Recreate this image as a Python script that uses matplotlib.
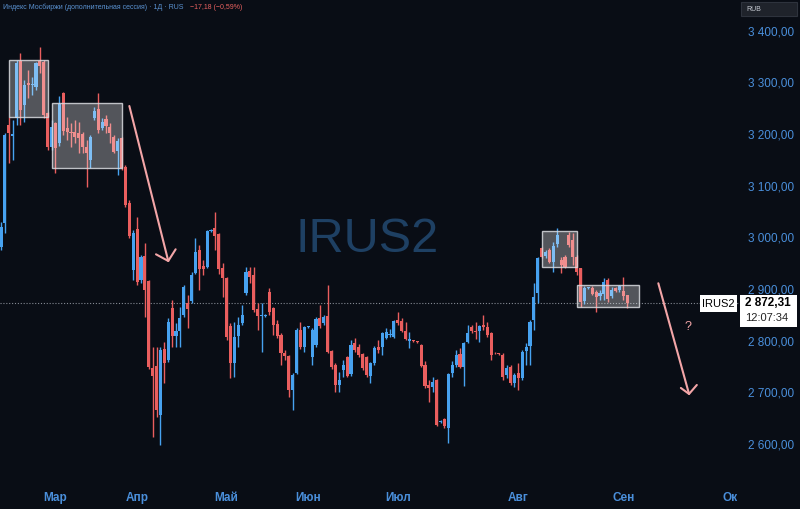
import matplotlib
matplotlib.use("Agg")
import matplotlib.pyplot as plt
from matplotlib.patches import Rectangle
import numpy as np

# ---------------- data (daily candles) ----------------
opens = [2981.6, 3028.0, 3217.7, 3196, 3231.2, 3341.5, 3256.4, 3298, 3296, 3291.2,
         3341.5, 3339.6, 3240.9, 3175.1, 3221.5, 3182.8, 3279.6, 3211.9, 3204, 3204.1,
         3202.2, 3200.3, 3175.1, 3149.9, 3231.2, 3248.6, 3211.9, 3229.3, 3213.8, 3194.5,
         3167.4, 3192.5, 3136.4, 3066.7, 2937.0, 3016.4, 2917.7, 2964.1, 2915.7, 2747.4,
         2751.2, 2656.4, 2784.1, 2762.9, 2863.5, 2809.3, 2819.0, 2850.0, 2873.2, 2877.1,
         2931.2, 2975.8, 2944.8, 2942.9, 3012.5, 3018.3, 3006.7, 2940.9, 2921.6, 2828.7,
         2757.0, 2809.3, 2834.5, 2892.5, 2935.1, 2927.4, 2861.6, 2848, 2848, 2894.5,
         2863.5, 2832.5, 2811.2, 2776.4, 2770.6, 2704.8, 2737.7, 2820.9, 2788.0, 2826.7,
         2768.7, 2791.9, 2844.1, 2834.5, 2848.0, 2780.3, 2753.2, 2714.5, 2743.5, 2768.7,
         2735.7, 2795.8, 2788.0, 2774.5, 2768.7, 2731.9, 2757.0, 2788.0, 2788.0, 2805.4,
         2811, 2807.4, 2840.3, 2838.3, 2819.0, 2799.7, 2800.5, 2799.7, 2791.9, 2753.2,
         2714.5, 2710.6, 2724.1, 2642.9, 2648.6, 2631.2, 2737.7, 2753.2, 2774.5, 2749.3,
         2797.7, 2826.7, 2818, 2819.0, 2830.6, 2826.7, 2815.1, 2777, 2776, 2772.5,
         2733.8, 2749.3, 2718.3, 2737.7, 2728.0, 2780.3, 2790, 2840.3, 2892.5, 2979.6,
         2964.1, 2975.8, 2952.5, 2987.4, 2956.4, 2962.2, 3004.8, 2995.1, 2962.2, 2940.9,
         2877.1, 2902.2, 2902.2, 2894.5, 2886.7, 2890.6, 2917.7, 2886.7, 2902.2, 2898.3,
         2896.4, 2888.7]
highs = [3029.9, 3202.2, 3233.2, 3227.4, 3343.5, 3357.0, 3304.8, 3324.1, 3310.6, 3339.6,
         3368.6, 3343.5, 3242.8, 3227.4, 3223, 3273.8, 3281.5, 3233.2, 3221.5, 3227.4,
         3223.5, 3204, 3188.6, 3198.3, 3252.5, 3279.6, 3231.2, 3237.0, 3221.5, 3198.3,
         3192.5, 3194.5, 3140.3, 3072.5, 3014.5, 3039.6, 2966, 2989.3, 2917.7, 2788.0,
         2788.0, 2788.0, 2797.7, 2844.1, 2879.0, 2834.5, 2865.4, 2908.0, 2888.7, 2933.2,
         2999.0, 2985.4, 2956.4, 3014.5, 3016, 3049.3, 3008.6, 2950.6, 2923, 2834.5,
         2836.4, 2846.1, 2869.3, 2942.9, 2942.9, 2942.9, 2873.2, 2873.2, 2851, 2902.2,
         2865.4, 2840.3, 2815.1, 2782.2, 2772.5, 2737.7, 2824.8, 2836.4, 2828.7, 2829,
         2824.8, 2846.1, 2869.3, 2850.0, 2908.0, 2782.2, 2757.0, 2739.6, 2762.9, 2770.6,
         2801.6, 2805.4, 2793.8, 2776.4, 2770.6, 2759, 2790, 2801.6, 2817, 2824.8,
         2822.9, 2840.3, 2855.8, 2844.1, 2836.4, 2817, 2802, 2800, 2793.8, 2760.9,
         2724.1, 2729.9, 2726, 2646, 2650.5, 2737.7, 2760.9, 2782.2, 2786.1, 2797.7,
         2830.6, 2830.6, 2836.4, 2830.6, 2850.0, 2836.4, 2817, 2778, 2777, 2776.4,
         2753.2, 2753.2, 2737.7, 2757.0, 2782.2, 2795.8, 2840.3, 2911.9, 2962.2, 2981.6,
         2975.8, 2979.6, 2991.2, 3018.3, 2962.2, 2966, 3010.6, 3008.6, 2966, 2941,
         2906.1, 2905, 2906.1, 2898.3, 2898.3, 2921.6, 2921.6, 2904.1, 2904.1, 2908.0,
         2923.5, 2889]
lows = [2975.8, 3008.6, 3144.1, 3149.9, 3217.7, 3217.7, 3223.5, 3269.9, 3275.7, 3285.4,
        3318.3, 3231.2, 3169.3, 3169.3, 3124.8, 3177.0, 3198.3, 3188.6, 3175.1, 3182.8,
        3163.5, 3163.5, 3097.7, 3134.4, 3227.4, 3202.2, 3208.0, 3202.2, 3182.8, 3163.5,
        3120.9, 3130.6, 3059.0, 2999.0, 2917.7, 2908.0, 2912, 2846.1, 2745.4, 2613.8,
        2652.5, 2598.4, 2718.3, 2759, 2788.0, 2788.0, 2788.0, 2846.1, 2824.8, 2873.2,
        2929.3, 2898.3, 2927.4, 2941, 3010, 2975.8, 2929.3, 2884.8, 2801.6, 2728.0,
        2730, 2788.0, 2830.6, 2888.7, 2911.9, 2855.8, 2820.9, 2778.3, 2846, 2850.0,
        2811.2, 2805.4, 2753.2, 2762.9, 2691.2, 2666.1, 2735.7, 2784.1, 2778.3, 2825,
        2753.2, 2788.0, 2824.8, 2830.6, 2776.4, 2745.4, 2700.9, 2700.9, 2730, 2730,
        2731.9, 2778.3, 2768.7, 2743.5, 2730, 2718.3, 2753.2, 2776.4, 2772.5, 2803.5,
        2807, 2806, 2830.6, 2817, 2801.6, 2786.1, 2798, 2796, 2749.3, 2708.7,
        2681.6, 2700.9, 2635.1, 2641, 2631.2, 2602.2, 2730, 2749.3, 2747.4, 2712.5,
        2795.8, 2815.1, 2803.5, 2797.7, 2820.9, 2807.4, 2762.9, 2774, 2773, 2724.1,
        2728.0, 2714.5, 2710.6, 2704.8, 2724.1, 2753.2, 2753.2, 2820.9, 2873.2, 2960.3,
        2960.3, 2950.6, 2933.2, 2981.6, 2931.2, 2941, 2981.6, 2946.7, 2927.4, 2865.4,
        2871.3, 2901, 2888.7, 2855.8, 2879.0, 2879.0, 2875.1, 2882.9, 2894.5, 2894.5,
        2879.0, 2863.5]
closes = [3020.3, 3198.3, 3202.2, 3200, 3337.7, 3246.7, 3295.1, 3296, 3297, 3337.7,
          3331.9, 3237.0, 3175.1, 3213.8, 3173.2, 3258.3, 3206.1, 3204.1, 3203, 3194.5,
          3192.5, 3175.1, 3163.5, 3194.5, 3244.8, 3208.0, 3223.5, 3215.7, 3202.2, 3165.4,
          3186.7, 3134.4, 3062.8, 3002.9, 3008.6, 2913.8, 2962.2, 2898.3, 2749.3, 2731.9,
          2666.1, 2782.2, 2757.0, 2836.4, 2809.3, 2819.0, 2844.1, 2904.1, 2861.6, 2927.4,
          2971.9, 2939.0, 2939.0, 3012.5, 3013.5, 3002.9, 2939.0, 2921.6, 2807.4, 2757.0,
          2807.4, 2830.6, 2850.0, 2933.2, 2923.5, 2859.6, 2848.0, 2849, 2849.5, 2855.8,
          2830.6, 2809.3, 2776.4, 2770.6, 2704.8, 2733.8, 2820.9, 2788.0, 2826.7, 2828,
          2820.9, 2842.2, 2828.7, 2846.1, 2778.3, 2749.3, 2714.5, 2724.1, 2753.2, 2731.9,
          2791.9, 2782.2, 2772.5, 2747.4, 2733.8, 2757.0, 2786.1, 2782.2, 2815.1, 2817.0,
          2812.5, 2838.3, 2834.5, 2819.0, 2803.5, 2803.5, 2799.7, 2797.7, 2751.2, 2712.5,
          2708.7, 2720.2, 2637.0, 2644.5, 2635.1, 2735.7, 2753.2, 2772.5, 2749.3, 2795.8,
          2815.1, 2819.0, 2817, 2828.7, 2826.7, 2811.2, 2772.5, 2775.5, 2774.5, 2729.9,
          2747.4, 2718.3, 2733.8, 2728.0, 2778.3, 2788.0, 2836.4, 2884.8, 2960.3, 2962.2,
          2971.9, 2952.5, 2983.5, 3004.8, 2946.7, 2942.9, 2985.4, 2962.2, 2933.2, 2875.1,
          2902.2, 2903.5, 2890.6, 2884.8, 2892.5, 2913.8, 2880.9, 2898.3, 2896.4, 2906.1,
          2886.7, 2872.31]

month_labels = ["Мар", "Апр", "Май", "Июн", "Июл", "Авг", "Сен", "Ок"]
month_pos = [14, 35, 58, 79, 102, 133, 160, 187.4]
price_ticks = [2600, 2700, 2800, 2900, 3000, 3100, 3200, 3300, 3400]
last_price = 2872.31
last_time = "12:07:34"
ticker = "IRUS2"
title = "Индекс Мосбиржи (дополнительная сессия) · 1Д · RUS"
change_text = "−17,18 (−0,59%)"

# consolidation boxes: (x0, x1, low, high) in candle index / price
boxes = [(2.1, 12.0, 3233, 3343), (13.2, 31.2, 3134, 3260),
         (139.1, 148.2, 2943, 3013), (148.2, 164.1, 2866, 2908)]
# drawn arrows: shaft (start, tip) and head arms
arrow1_shaft = [(33.0, 3254.4), (43.0, 2954.5)]
arrow1_head = [(39.85, 2967.4), (43.0, 2954.5), (44.9, 2977.1)]
arrow2_shaft = [(169.0, 2911.3), (176.9, 2697.1)]
arrow2_head = [(174.8, 2708.7), (176.9, 2697.1), (178.9, 2714.5)]
question_pos = (176.6, 2826.7)

# ---------------- style ----------------
BG = "#090d15"
UP = "#47a2f0"
DOWN = "#ea5e5e"
AXIS_TXT = "#4a8fdb"
ARROW = "#f3a5a7"

W, H = 800, 509
fig = plt.figure(figsize=(W / 100, H / 100), dpi=100, facecolor=BG)
ax = fig.add_axes([0, (H - 485) / H, 740 / W, 485 / H])
ax.set_facecolor(BG)
ax.set_xlim(-0.257, 190.0)
ax.set_ylim(2520.9, 3459.6)
for s in ax.spines.values():
    s.set_visible(False)

o = np.array(opens); h = np.array(highs); l = np.array(lows); c = np.array(closes)
idx = np.arange(len(o))
cols = np.where(c >= o, UP, DOWN)
ax.vlines(idx, l, h, colors=cols, lw=1.0, zorder=2)
bottom = np.minimum(o, c)
height = np.maximum(np.abs(c - o), 1.8)
ax.bar(idx, height, bottom=bottom, width=0.8, color=cols, linewidth=0, zorder=3)

for x0, x1, lo, hi in boxes:
    ax.add_patch(Rectangle((x0, lo), x1 - x0, hi - lo, facecolor=(1, 1, 1, 0.30),
                           edgecolor=(0.85, 0.86, 0.88, 0.85), lw=1.0, zorder=5))

for shaft, head in [(arrow1_shaft, arrow1_head), (arrow2_shaft, arrow2_head)]:
    ax.plot([p[0] for p in shaft], [p[1] for p in shaft], color=ARROW, lw=1.5,
            solid_capstyle="round", zorder=6)
    ax.plot([p[0] for p in head], [p[1] for p in head], color=ARROW, lw=1.5,
            solid_capstyle="round", solid_joinstyle="round", zorder=6)
ax.text(question_pos[0], question_pos[1], "?", color=ARROW, fontsize=9,
        ha="center", va="center", zorder=6, family="Liberation Sans")

ax.axhline(last_price, color="#858a94", lw=0.8, ls=(0, (1, 1.6)), zorder=1)

# axes ticks
ax.yaxis.tick_right()
ax.set_yticks(price_ticks)
ax.set_yticklabels([f"{v:,.2f}".replace(",", " ").replace(".", ",") for v in price_ticks])
ax.tick_params(axis="y", length=0, pad=6, colors=AXIS_TXT, labelsize=8.5)
ax.set_xticks(month_pos)
ax.set_xticklabels(month_labels)
ax.tick_params(axis="x", length=0, pad=5, colors=AXIS_TXT, labelsize=8.5)
for t in ax.get_yticklabels():
    t.set_family("Liberation Sans")
for t in ax.get_xticklabels():
    t.set_family("Liberation Sans")
    t.set_fontweight("bold")

# overlay in pixel coordinates for decorations
ov = fig.add_axes([0, 0, 1, 1], facecolor="none")
ov.set_xlim(0, W)
ov.set_ylim(H, 0)
ov.axis("off")

ov.text(367, 240, ticker, color="#1e4063", fontsize=35, ha="center", va="center",
        family="Liberation Sans", zorder=0)
ax.set_zorder(1); ov.set_zorder(2)

t1 = ov.text(3, 7, title, color="#5b93d3", fontsize=5, ha="left", va="center",
             family="Liberation Sans")
renderer = fig.canvas.get_renderer()
bb = t1.get_window_extent(renderer=renderer)
ov.text(bb.x1 + 7, 7, change_text, color="#e8615f", fontsize=5, ha="left", va="center",
        family="Liberation Sans")

ov.add_patch(Rectangle((741, 2), 56, 14, facecolor="#1f232b", edgecolor="#2e333d", lw=0.8))
ov.text(746, 9, "RUB", color="#c8ccd4", fontsize=5, ha="left", va="center",
        family="Liberation Sans")

y_disp = ax.transData.transform((0, last_price))[1]
yp = H - y_disp
ov.add_patch(Rectangle((740, yp - 8.5), 57, 32, facecolor="white", edgecolor="none"))
lab = f"{last_price:,.2f}".replace(",", " ").replace(".", ",")
ov.text(745, yp, lab, color="black", fontsize=8.5, ha="left", va="center",
        family="Liberation Sans", fontweight="bold")
ov.text(745, yp + 15, last_time, color="#222222", fontsize=8, ha="left", va="center",
        family="Liberation Sans")
ov.add_patch(Rectangle((700, yp - 8.5), 37, 17, facecolor="white", edgecolor="none"))
ov.text(718.5, yp + 0.5, ticker, color="black", fontsize=8, ha="center", va="center",
        family="Liberation Sans")

fig.savefig("out.png", dpi=100, facecolor=BG)
